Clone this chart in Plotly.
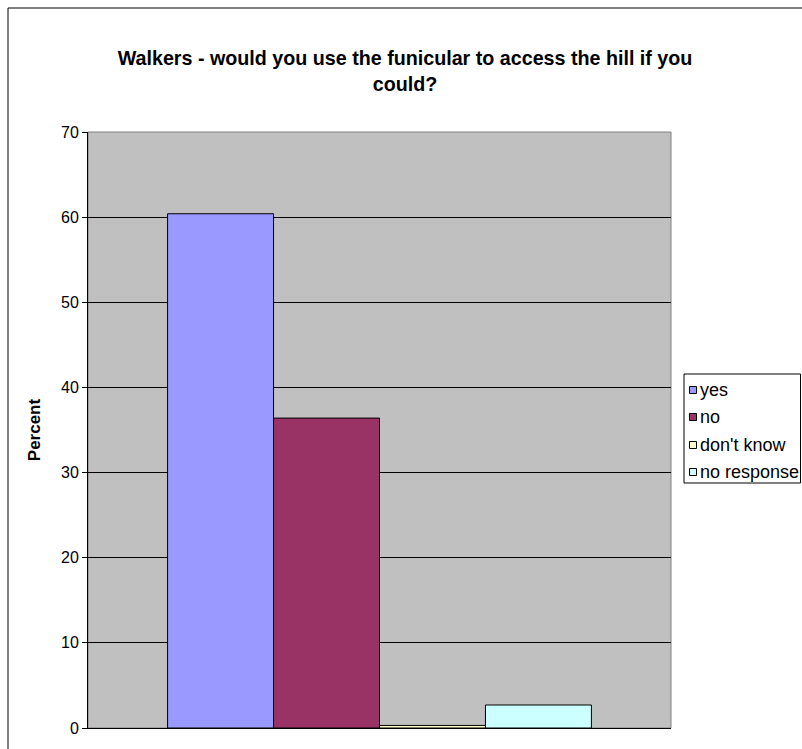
import plotly.graph_objects as go

categories = ["yes", "no", "don't know", "no response"]
values = [60.4, 36.4, 0.3, 2.7]
colors = ["#9999FF", "#993366", "#FFFFCC", "#CCFFFF"]
group = ["Walkers"]
title_text = "Walkers - would you use the funicular to access the hill if you<br>could?"
y_ticks = [0, 10, 20, 30, 40, 50, 60, 70]

FONT = "Liberation Sans, Arial, sans-serif"
L, R, T, B = 88, 131, 132, 21
W, H = 802, 749
pw, ph = W - L - R, H - T - B


def px_x(x):
    return (x - L) / pw


def px_y(y):
    return (H - B - y) / ph


fig = go.Figure()
for name, v, c in zip(categories, values, colors):
    fig.add_trace(go.Bar(x=group, y=[v], name=name, showlegend=False,
                         marker=dict(color=c, line=dict(color="black", width=1))))

fig.update_layout(
    width=W, height=H,
    margin=dict(l=L, r=R, t=T, b=B, pad=0, autoexpand=False),
    paper_bgcolor="white",
    plot_bgcolor="#C0C0C0",
    barmode="group", bargap=0.273, bargroupgap=0,
    font=dict(family=FONT, size=16, color="black"),
    title=dict(text="<b>" + title_text + "</b>", x=0.505, xanchor="center", xref="container",
               y=1 - 65 / H, yanchor="middle", yref="container",
               font=dict(size=19.7, family=FONT, color="black")),
    showlegend=False,
)
fig.update_yaxes(range=[0, 70], tickvals=y_ticks, ticks="outside", ticklen=5, tickcolor="black",
                 showline=True, linecolor="black", linewidth=1, showgrid=True,
                 gridcolor="black", gridwidth=1, zeroline=False,
                 title=dict(text="<b>Percent</b>", font=dict(size=17), standoff=16),
                 tickfont=dict(size=16))
fig.update_xaxes(showticklabels=False, ticks="", showline=True, linecolor="black",
                 showgrid=False, zeroline=False)

# plot area border (gray)
fig.add_shape(type="rect", xref="paper", yref="paper", x0=0, y0=0, x1=1, y1=1,
              line=dict(color="#808080", width=1), layer="below")
# chart outer border (clipped by the window edge)
fig.add_shape(type="rect", xref="paper", yref="paper",
              x0=px_x(8), y0=px_y(900), x1=px_x(900), y1=px_y(8),
              line=dict(color="black", width=1))

# legend box, built from the series lists
fig.add_shape(type="rect", xref="paper", yref="paper",
              x0=px_x(684), y0=px_y(483), x1=px_x(800.5), y1=px_y(374),
              line=dict(color="black", width=1), fillcolor="white")
row_y = [390, 417, 445, 472]
for name, c, ry in zip(categories, colors, row_y):
    fig.add_shape(type="rect", xref="paper", yref="paper",
                  x0=px_x(689.5), x1=px_x(696.5), y0=px_y(ry + 3.5), y1=px_y(ry - 3.5),
                  line=dict(color="black", width=1), fillcolor=c)
    fig.add_annotation(text=name, xref="paper", yref="paper", x=px_x(698), y=px_y(ry),
                       xanchor="left", yanchor="middle", showarrow=False,
                       font=dict(size=18, family=FONT, color="black"))

fig.write_html("out.html")
